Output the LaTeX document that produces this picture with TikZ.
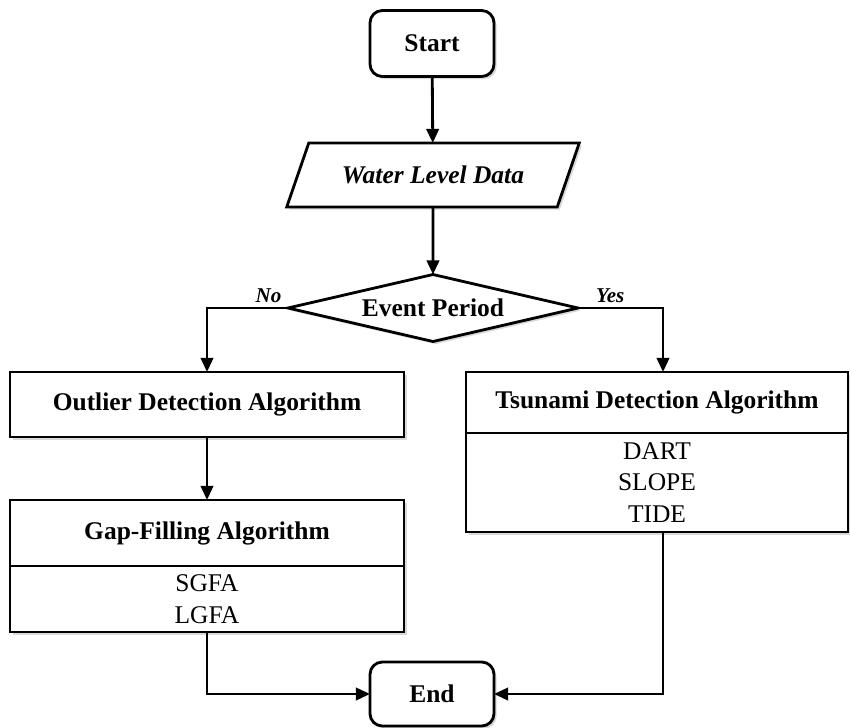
\documentclass[tikz,border=0pt]{standalone}
\usepackage{fontspec}
\setmainfont{Liberation Serif}
\usetikzlibrary{arrows.meta,shapes.geometric,shadows,positioning}

\begin{document}
\begin{tikzpicture}[x=0.02cm, y=-0.02cm, >={Triangle[length=8pt,width=7pt]},
  line width=1.6pt, font=\fontsize{14.5}{18}\selectfont,
  softshadow/.style={drop shadow={opacity=0.3, shadow xshift=1.5pt, shadow yshift=-1.5pt}},
  term/.style={draw, rounded corners=7pt, fill=white, softshadow, outer sep=0pt,
    minimum width=2.48cm, minimum height=1.32cm, font=\fontsize{14.5}{18}\selectfont\bfseries},
  io/.style={draw, trapezium, trapezium left angle=60, trapezium right angle=120,
    trapezium stretches=true, fill=white, softshadow, outer sep=0pt,
    minimum width=5.86cm, minimum height=1.28cm,
    font=\fontsize{14.5}{18}\selectfont\bfseries\itshape},
  decide/.style={draw, diamond, shape aspect=4.3, inner sep=0pt, fill=white, softshadow,
    outer sep=0pt, minimum width=5.8cm, minimum height=1.34cm,
    font=\fontsize{14.5}{18}\selectfont\bfseries},
  algbox/.style={draw, fill=white, softshadow, outer sep=0pt,
    font=\fontsize{14.5}{18}\selectfont\bfseries},
  listbox/.style={draw, fill=white, softshadow, outer sep=0pt, align=center},
  lbl/.style={font=\fontsize{12}{14}\selectfont\bfseries\itshape, inner sep=2pt}]
\useasboundingbox (0,0) rectangle (850,728);
% --- main column ---
\node[term] (start) at (432,43.5) {Start};
\node[io] (wld) at (433,175) {Water Level Data};
\node[decide] (evt) at (433,308) {Event Period};
% --- left branch: outliers, then gaps ---
\node[algbox, minimum width=7.88cm, minimum height=1.3cm] (oda) at (207,404.5)
  {Outlier Detection Algorithm};
\node[algbox, minimum width=7.88cm, minimum height=1.32cm] (gfa) at (207,533)
  {Gap-Filling Algorithm};
\node[listbox, minimum width=7.88cm, minimum height=1.32cm, below=0pt of gfa] (gfalist)
  {SGFA\\LGFA};
% --- right branch: tsunami ---
\node[algbox, minimum width=7.64cm, minimum height=1.22cm] (tda) at (657,402.5)
  {Tsunami Detection Algorithm};
\node[listbox, minimum width=7.64cm, minimum height=1.98cm, below=0pt of tda] (tdalist)
  {DART\\SLOPE\\TIDE};
\node[term, minimum height=1.28cm] (fin) at (432,694) {End};
\coordinate (yesdrop) at (663,0);
% --- connectors ---
\draw[->] (start) -- (wld);
\draw[->] (wld) -- (evt);
\draw[->] (evt.west) -| (oda.north) node[lbl, pos=0.12, above] (no) {No};
\draw[->] (evt.east) -| (yesdrop |- tda.north) node[lbl, pos=0.19, above] (yes) {Yes};
\draw[->] (oda) -- (gfa);
\draw[->] (gfalist.south) |- (fin.west);
\draw[->] (yesdrop |- tdalist.south) |- (fin.east);
\end{tikzpicture}
\end{document}
